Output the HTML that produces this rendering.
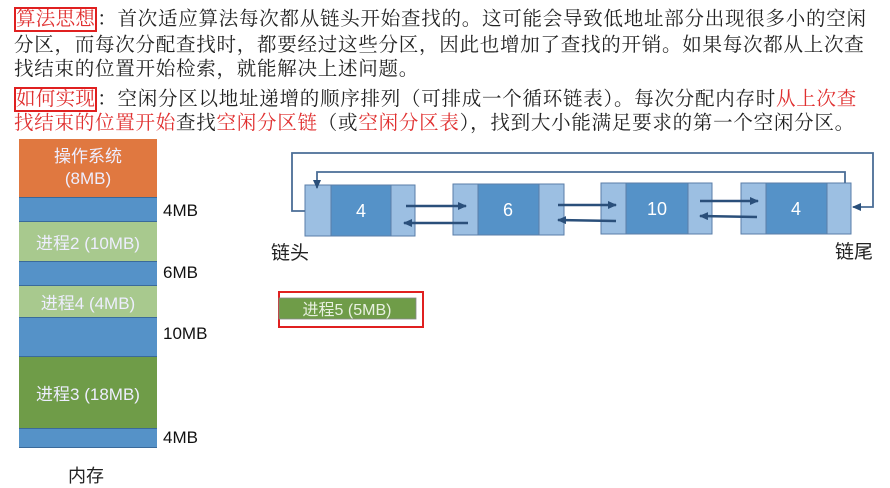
<!DOCTYPE html>
<html><head><meta charset="utf-8"><style>
body{margin:0;width:890px;height:485px;background:#fff;position:relative;overflow:hidden;font-family:"Liberation Sans","Noto Sans CJK SC",sans-serif;}
.t{position:absolute;left:14px;font-size:19.5px;letter-spacing:0.75px;color:#222;white-space:nowrap;line-height:24px;font-family:"Liberation Serif","Noto Serif CJK SC",serif;}
.r{color:#e03030}
.box{border:2px solid #e02020;padding:0;letter-spacing:0.3px}
.seg{position:absolute;left:19px;width:138px;color:#eef;text-align:center;font-size:17px;display:flex;align-items:center;justify-content:center;box-sizing:border-box;border-bottom:1px solid #3a6a9a;}
.lab{position:absolute;left:163px;font-size:17px;color:#111;}
</style></head><body>
<div class="t" style="top:8px"><span class="box r">算法思想</span>：首次适应算法每次都从链头开始查找的。这可能会导致低地址部分出现很多小的空闲</div>
<div class="t" style="top:34px">分区，而每次分配查找时，都要经过这些分区，因此也增加了查找的开销。如果每次都从上次查</div>
<div class="t" style="top:58px">找结束的位置开始检索，就能解决上述问题。</div>
<div class="t" style="top:88px"><span class="box r">如何实现</span>：空闲分区以地址递增的顺序排列（可排成一个循环链表）。每次分配内存时<span class="r">从上次查</span></div>
<div class="t" style="top:112px"><span class="r">找结束的位置开始</span>查找<span class="r">空闲分区链</span>（或<span class="r">空闲分区表</span>），找到大小能满足要求的第一个空闲分区。</div>

<div class="seg" style="top:139px;height:59px;background:#e07840;flex-direction:column;line-height:22px">操作系统<br>(8MB)</div>
<div class="seg" style="top:198px;height:24px;background:#5592c8"></div>
<div class="seg" style="top:222px;height:40px;background:#a8c98e">进程2 (10MB)</div>
<div class="seg" style="top:262px;height:24px;background:#5592c8"></div>
<div class="seg" style="top:286px;height:32px;background:#a8c98e">进程4 (4MB)</div>
<div class="seg" style="top:318px;height:39px;background:#5592c8"></div>
<div class="seg" style="top:357px;height:72px;background:#6f9c48">进程3 (18MB)</div>
<div class="seg" style="top:429px;height:19px;background:#5592c8"></div>
<div class="lab" style="top:201px">4MB</div>
<div class="lab" style="top:263px">6MB</div>
<div class="lab" style="top:324px">10MB</div>
<div class="lab" style="top:428px">4MB</div>
<div style="position:absolute;left:68px;top:462px;font-size:18px;color:#222">内存</div>

<svg width="890" height="485" style="position:absolute;left:0;top:0">
<defs><marker id="a" markerUnits="userSpaceOnUse" markerWidth="9" markerHeight="8" refX="8" refY="4" orient="auto"><path d="M0,0L9,4L0,8z" fill="#2a4f7a"/></marker></defs>
<g stroke="#5a7ea8" stroke-width="1">
<rect x="305" y="185" width="110" height="51" fill="#9cbfe2"/><rect x="331" y="185" width="60" height="51" fill="#5592c8"/>
<rect x="453" y="184" width="111" height="51" fill="#9cbfe2"/><rect x="478" y="184" width="61" height="51" fill="#5592c8"/>
<rect x="601" y="183" width="111" height="51" fill="#9cbfe2"/><rect x="626" y="183" width="62" height="51" fill="#5592c8"/>
<rect x="741" y="183" width="110" height="51" fill="#9cbfe2"/><rect x="766" y="183" width="61" height="51" fill="#5592c8"/>
</g>
<g fill="#fff" font-size="18" text-anchor="middle" font-family="Liberation Sans">
<text x="361" y="217">4</text><text x="508" y="216">6</text><text x="657" y="215">10</text><text x="796" y="215">4</text></g>
<g stroke="#2a4f7a" stroke-width="2.5" fill="none" marker-end="url(#a)">
<line x1="406" y1="206" x2="466" y2="206"/><line x1="468" y1="223" x2="404" y2="223"/>
<line x1="558" y1="205" x2="616" y2="205"/><line x1="616" y1="221" x2="558" y2="220"/>
<line x1="700" y1="201" x2="758" y2="201"/><line x1="757" y1="217" x2="700" y2="216"/>
</g>
<g stroke="#4a6d96" stroke-width="1.8" fill="none" marker-end="url(#a)">
<polyline points="305,211 292,211 292,153 873,153 873,207 853,207"/>
<polyline points="845,183 845,172 317,172 317,188"/>
</g>
<text x="271" y="259" font-size="19" fill="#222" font-family="Noto Sans CJK SC">链头</text>
<text x="835" y="258" font-size="19" fill="#222" font-family="Noto Sans CJK SC">链尾</text>
<rect x="279" y="292" width="144" height="35" fill="none" stroke="#e02020" stroke-width="2"/>
<rect x="279" y="298" width="137" height="21" fill="#6f9c48" stroke="#888" stroke-width="0.8"/>
<text x="347" y="315" font-size="16" fill="#e8f0e0" text-anchor="middle" font-family="Liberation Sans, Noto Sans CJK SC">进程5 (5MB)</text>
</svg>
</body></html>
